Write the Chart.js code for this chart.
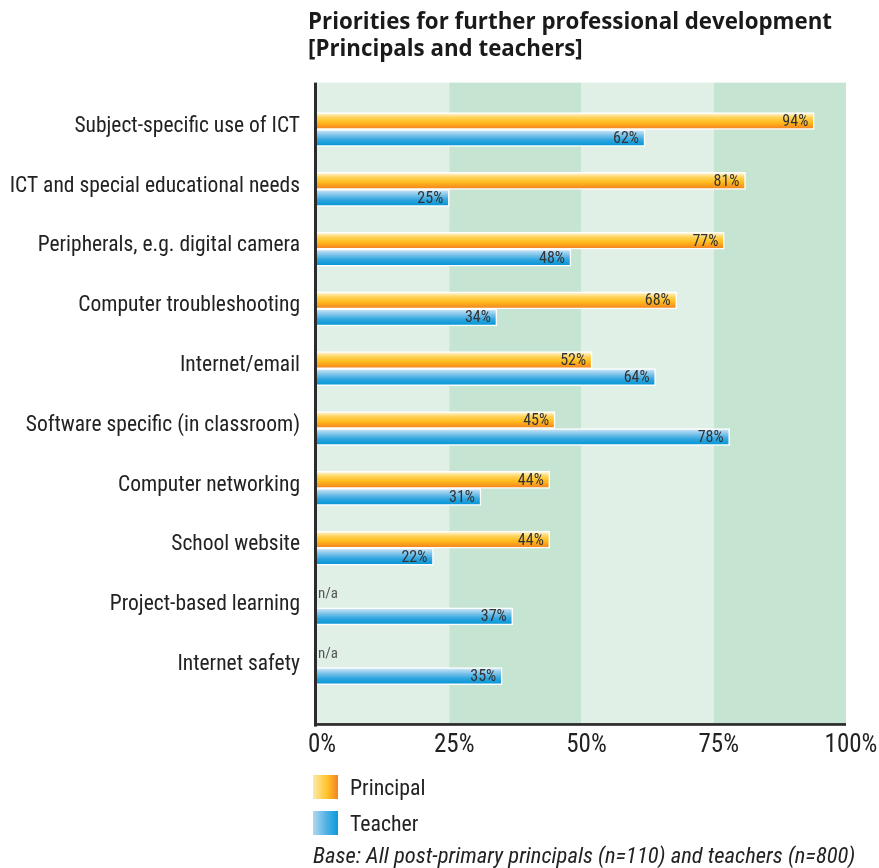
<!DOCTYPE html>
<html>
<head>
<meta charset="utf-8">
<script src="https://cdn.jsdelivr.net/npm/chart.js@4.4.1/dist/chart.umd.min.js"></script>
<style>
  html, body { margin: 0; padding: 0; background: #ffffff; }
  #wrap { width: 879px; height: 868px; position: relative; }
  canvas { display: block; }
</style>
</head>
<body>
<div id="wrap"><canvas id="c" width="879" height="868"></canvas></div>
<script>
// ---------------- data ----------------
const categories = [
  'Subject-specific use of ICT',
  'ICT and special educational needs',
  'Peripherals, e.g. digital camera',
  'Computer troubleshooting',
  'Internet/email',
  'Software specific (in classroom)',
  'Computer networking',
  'School website',
  'Project-based learning',
  'Internet safety'
];
const principalValues = [94, 81, 77, 68, 52, 45, 44, 44, null, null];
const teacherValues   = [62, 25, 48, 34, 64, 78, 31, 22, 37, 35];
const xTickValues = [0, 25, 50, 75, 100];
const seriesNames = ['Principal', 'Teacher'];
const titleLines = ['Priorities for further professional development', '[Principals and teachers]'];
const missingLabel = 'n/a';
const footnote = 'Base: All post-primary principals (n=110) and teachers (n=800)';

// ---------------- styles ----------------
const COND = '"Roboto Condensed", "DejaVu Sans Condensed", sans-serif';
const TITLE_FONT = '"Open Sans", "DejaVu Sans", sans-serif';
const BAR = 17;
const BAND_LIGHT = '#e1f0e6';
const BAND_DARK = '#c6e4d2';
const principalStops = [[0, '#fff0c0'], [0.25, '#ffd35a'], [0.6, '#ffbb1c'], [1, '#f58a1f']];
const teacherStops   = [[0, '#bfe0f4'], [0.3, '#7cc3ea'], [0.65, '#2fa6e0'], [1, '#0a98d6']];

function barGradient(ctx, stops, slot) {
  const chart = ctx.chart;
  const ys = chart.scales && chart.scales.y;
  if (!chart.chartArea || !ys || ctx.type !== 'data') return stops[2][1];
  const c = ys.getPixelForValue(ctx.dataIndex);
  const top = slot === 0 ? c - BAR : c;
  const g = chart.ctx.createLinearGradient(0, top + 1.5, 0, top + BAR - 1.5);
  stops.forEach(s => g.addColorStop(s[0], s[1]));
  return g;
}

const decorPlugin = {
  id: 'decor',
  beforeDatasetsDraw(chart) {
    const { ctx, chartArea } = chart;
    const xs = chart.scales.x;
    const top = chartArea.top - 17;
    const bottom = chartArea.bottom + 27;
    for (let i = 0; i < xTickValues.length - 1; i++) {
      const x0 = xs.getPixelForValue(xTickValues[i]);
      const x1 = xs.getPixelForValue(xTickValues[i + 1]);
      ctx.fillStyle = i % 2 === 0 ? BAND_LIGHT : BAND_DARK;
      ctx.fillRect(x0, top, x1 - x0, bottom - top);
    }
  },
  afterDatasetsDraw(chart) {
    const { ctx, chartArea } = chart;
    const xs = chart.scales.x;
    const ys = chart.scales.y;
    const top = chartArea.top - 17;
    const axisY = chartArea.bottom + 27;
    // value labels
    ctx.save();
    ctx.font = '16px ' + COND;
    ctx.fillStyle = '#333333';
    ctx.textAlign = 'right';
    ctx.textBaseline = 'middle';
    chart.data.datasets.forEach((ds, di) => {
      const meta = chart.getDatasetMeta(di);
      meta.data.forEach((el, i) => {
        const v = ds.data[i];
        if (v === null || v === undefined) {
          const c = ys.getPixelForValue(i);
          ctx.save();
          ctx.textAlign = 'left';
          ctx.textBaseline = 'alphabetic';
          ctx.font = '15px ' + COND;
          ctx.fillStyle = '#555555';
          ctx.fillText(missingLabel, xs.getPixelForValue(0) + 1, c - BAR / 2 - 1);
          ctx.restore();
          return;
        }
        ctx.fillText(v + '%', el.x - 6, el.y + 1);
      });
    });
    ctx.restore();
    // axis lines
    ctx.save();
    ctx.fillStyle = '#2b2b2b';
    const x0 = xs.getPixelForValue(0);
    const x1 = xs.getPixelForValue(100);
    ctx.fillRect(x0 - 3, top, 3, axisY - top + 2);
    ctx.fillRect(x0 - 3, axisY - 1.5, x1 - x0 + 3, 2.7);
    ctx.restore();
  },
  afterDraw(chart) {
    const { ctx } = chart;
    ctx.save();
    // title
    ctx.fillStyle = '#1a1a1a';
    ctx.font = 'bold 22.3px ' + TITLE_FONT;
    ctx.textAlign = 'left';
    ctx.textBaseline = 'alphabetic';
    ctx.fillText(titleLines[0], 308, 28.5);
    ctx.fillText(titleLines[1], 308, 55.5);
    // legend
    const legend = [
      { name: seriesNames[0], y: 775, stops: ['#fde8ad', '#ffc52b', '#f5821f'] },
      { name: seriesNames[1], y: 811, stops: ['#b0d8f0', '#4db0e4', '#0a9cd8'] }
    ];
    legend.forEach(l => {
      const g = ctx.createLinearGradient(313, 0, 338, 0);
      g.addColorStop(0, l.stops[0]);
      g.addColorStop(0.55, l.stops[1]);
      g.addColorStop(1, l.stops[2]);
      ctx.fillStyle = g;
      ctx.fillRect(313, l.y, 25, 24);
      ctx.fillStyle = '#222222';
      ctx.font = '21.8px ' + COND;
      ctx.fillText(l.name, 350, l.y + 19.5);
    });
    // footnote
    ctx.font = 'italic 22.6px ' + COND;
    ctx.fillStyle = '#222222';
    ctx.fillText(footnote, 313, 862.5);
    ctx.restore();
  }
};

const chart = new Chart(document.getElementById('c'), {
  type: 'bar',
  data: {
    labels: categories,
    datasets: [
      {
        label: seriesNames[0],
        data: principalValues,
        backgroundColor: (ctx) => barGradient(ctx, principalStops, 0),
        borderColor: '#ffffff',
        borderWidth: 1.5,
        borderSkipped: 'start',
        barThickness: BAR
      },
      {
        label: seriesNames[1],
        data: teacherValues,
        backgroundColor: (ctx) => barGradient(ctx, teacherStops, 1),
        borderColor: '#ffffff',
        borderWidth: 1.5,
        borderSkipped: 'start',
        barThickness: BAR
      }
    ]
  },
  options: {
    indexAxis: 'y',
    responsive: false,
    devicePixelRatio: 1,
    animation: false,
    layout: { padding: { left: 0, right: 33, top: 99.6, bottom: 0 } },
    plugins: {
      legend: { display: false },
      title: { display: false },
      tooltip: { enabled: false }
    },
    scales: {
      x: {
        type: 'linear',
        min: 0,
        max: 100,
        afterBuildTicks: (scale) => { scale.ticks = xTickValues.map(v => ({ value: v })); },
        afterFit: (scale) => { scale.height = 868 - 697.6; scale.paddingLeft = 0; scale.paddingRight = 0; },
        grid: { display: false, drawTicks: false },
        border: { display: false },
        ticks: {
          callback: (v) => v + '%',
          font: { family: COND, size: 25 },
          color: '#222222',
          padding: 33,
          labelOffset: 5,
          maxRotation: 0
        }
      },
      y: {
        type: 'category',
        offset: true,
        afterFit: (scale) => { scale.width = 317; scale.paddingTop = 0; scale.paddingBottom = 0; },
        grid: { display: false, drawTicks: false },
        border: { display: false },
        ticks: {
          font: { family: COND, size: 21.5 },
          color: '#222222',
          padding: 17,
          labelOffset: -3,
          autoSkip: false
        }
      }
    }
  },
  plugins: [decorPlugin]
});
</script>
</body>
</html>
